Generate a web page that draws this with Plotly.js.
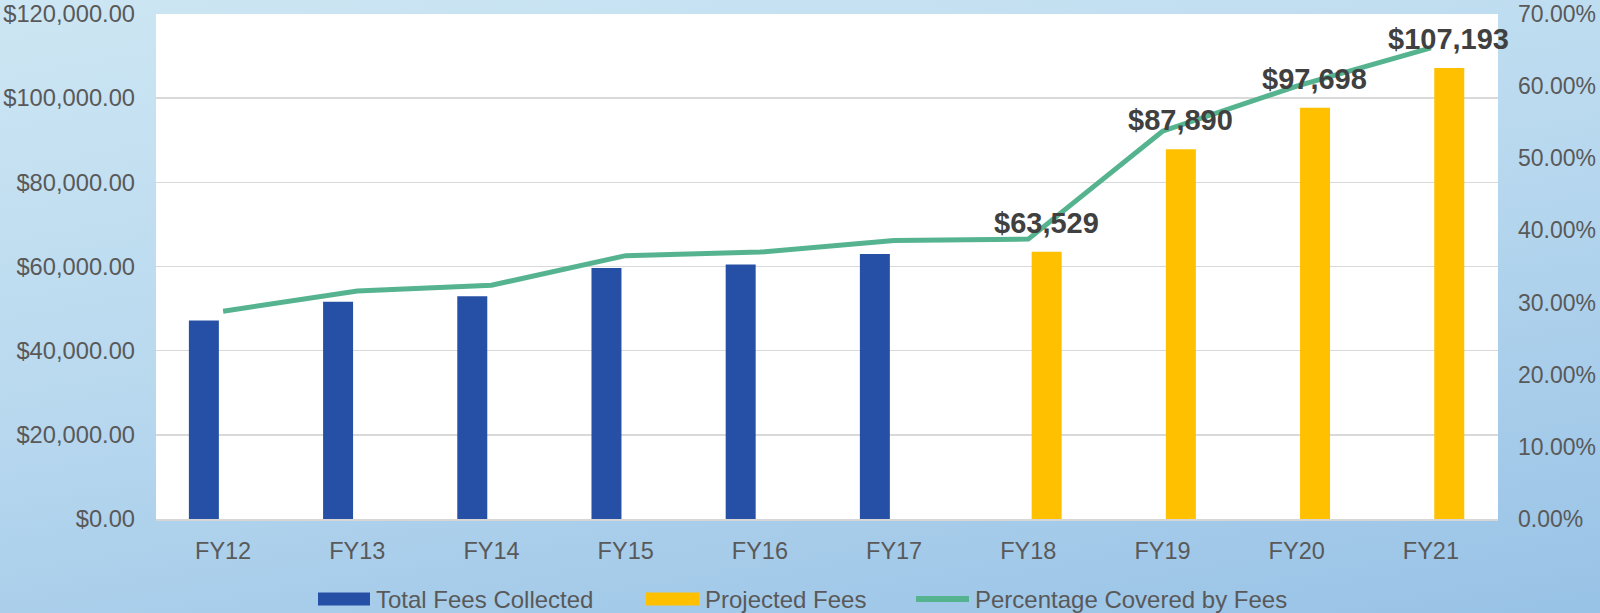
<!DOCTYPE html>
<html>
<head>
<meta charset="utf-8">
<script src="https://cdn.plot.ly/plotly-3.0.1.min.js"></script>
<style>
  html, body { margin: 0; padding: 0; }
  body {
    width: 1600px; height: 613px; overflow: hidden;
    background: linear-gradient(170deg, #cde6f3 0%, #b9d9ef 45%, #98c2e6 100%);
  }
  #chart { width: 1600px; height: 613px; }
</style>
</head>
<body>
<div id="chart"></div>
<script>
// ---- data ----
const categories = ["FY12","FY13","FY14","FY15","FY16","FY17","FY18","FY19","FY20","FY21"];
const totalFeesCollected = [47150, 51600, 52950, 59620, 60480, 62950, null, null, null, null];
const projectedFees = [null, null, null, null, null, null, 63529, 87890, 97698, 107193];
const percentCovered = [0.288, 0.316, 0.324, 0.365, 0.370, 0.386, 0.388, 0.5375, 0.600, 0.653];
const seriesNames = ["Total Fees Collected", "Projected Fees", "Percentage Covered by Fees"];

// ---- style ----
const M = {l: 156, r: 102, t: 14, b: 94};
const W = 1600, H = 613;
const PW = W - M.l - M.r, PH = H - M.t - M.b;
const px2x = px => (px - M.l) / PW;
const py2y = py => (H - M.b - py) / PH;
const BLUE = "#2650a5", GOLD = "#ffc000", GREEN = "#55b48f";
const TXT = "#595959";
const FONT = "Liberation Sans, Arial, sans-serif";

const traces = [
  {
    type: "bar", name: seriesNames[0], x: categories, y: totalFeesCollected,
    marker: {color: BLUE}, width: 0.2235, offset: -0.255,
    showlegend: false, hoverinfo: "x+y"
  },
  {
    type: "bar", name: seriesNames[1], x: categories, y: projectedFees,
    marker: {color: GOLD}, width: 0.2235, offset: 0.025,
    showlegend: false, hoverinfo: "x+y"
  },
  {
    type: "scatter", mode: "lines", name: seriesNames[2], x: categories, y: percentCovered,
    yaxis: "y2", line: {color: GREEN, width: 5}, showlegend: false
  }
];

// data labels on projected bars
const annotations = [];
categories.forEach((c, i) => {
  const v = projectedFees[i];
  if (v === null) return;
  annotations.push({
    x: c, y: v, xref: "x", yref: "y", showarrow: false,
    text: "$" + v.toLocaleString("en-US"),
    xanchor: "center", yanchor: "bottom", xshift: 18, yshift: 11,
    font: {family: FONT, size: 29, color: "#404040", weight: "bold"}
  });
});

// custom legend
const shapes = [];
const legendItems = [
  {name: seriesNames[0], kind: "rect", color: BLUE, x0: 318, x1: 370, tx: 374},
  {name: seriesNames[1], kind: "rect", color: GOLD, x0: 646, x1: 699, tx: 703},
  {name: seriesNames[2], kind: "line", color: GREEN, x0: 916, x1: 969, tx: 973}
];
const LY = 599;
legendItems.forEach(it => {
  if (it.kind === "rect") {
    shapes.push({type: "rect", xref: "paper", yref: "paper",
      x0: px2x(it.x0), x1: px2x(it.x1), y0: py2y(LY + 6.5), y1: py2y(LY - 6.5),
      fillcolor: it.color, line: {width: 0}});
  } else {
    shapes.push({type: "line", xref: "paper", yref: "paper",
      x0: px2x(it.x0), x1: px2x(it.x1), y0: py2y(LY), y1: py2y(LY),
      line: {color: it.color, width: 6}});
  }
  annotations.push({xref: "paper", yref: "paper", x: px2x(it.tx), y: py2y(LY),
    xanchor: "left", yanchor: "middle", showarrow: false, text: it.name,
    font: {family: FONT, size: 24, color: TXT}});
});

const layout = {
  width: W, height: H,
  margin: M,
  paper_bgcolor: "rgba(0,0,0,0)",
  plot_bgcolor: "#ffffff",
  font: {family: FONT, color: TXT},
  barmode: "overlay",
  showlegend: false,
  xaxis: {
    type: "category", range: [-0.5, 9.5],
    showline: true, linecolor: "#d6d6d6", linewidth: 2,
    showgrid: false, ticks: "", ticklabelstandoff: 10,
    tickfont: {family: FONT, size: 23.5, color: TXT},
    fixedrange: true
  },
  yaxis: {
    range: [0, 120000], dtick: 20000, tick0: 0,
    tickformat: "$,.2f", showgrid: true, gridcolor: "#d9d9d9", gridwidth: 1.5,
    zeroline: false, showline: false, ticks: "", ticklabelstandoff: 20,
    tickfont: {family: FONT, size: 23.7, color: TXT},
    fixedrange: true
  },
  yaxis2: {
    overlaying: "y", side: "right",
    range: [0, 0.7], dtick: 0.1, tick0: 0,
    tickformat: ".2%", showgrid: false, zeroline: false, showline: false,
    ticks: "", ticklabelstandoff: 19,
    tickfont: {family: FONT, size: 23, color: TXT},
    fixedrange: true
  },
  shapes: shapes,
  annotations: annotations
};

Plotly.newPlot("chart", traces, layout, {displayModeBar: false, staticPlot: true});
</script>
</body>
</html>
